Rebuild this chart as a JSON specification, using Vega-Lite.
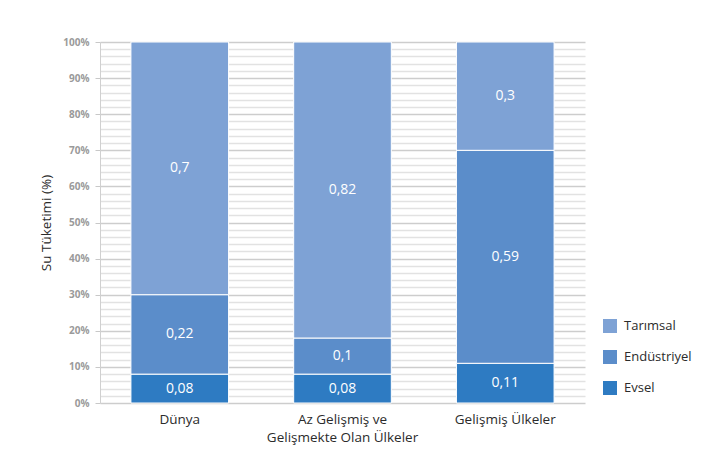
{
  "$schema": "https://vega.github.io/schema/vega-lite/v6.json",
  "width": 485,
  "height": 361,
  "autosize": {"type": "none"},
  "padding": {"left": 100, "top": 42, "right": 118, "bottom": 69},
  "background": "#ffffff",
  "config": {
    "font": "Open Sans",
    "view": {"stroke": null},
    "locale": {
      "number": {"decimal": ",", "thousands": ".", "grouping": [3], "currency": ["", " ₺"]}
    }
  },
  "data": {
    "values": [
      {"bolge": "Dünya", "kullanim": "Evsel", "sira": 1, "pay": 0.08},
      {"bolge": "Dünya", "kullanim": "Endüstriyel", "sira": 2, "pay": 0.22},
      {"bolge": "Dünya", "kullanim": "Tarımsal", "sira": 3, "pay": 0.7},
      {"bolge": "Az Gelişmiş ve Gelişmekte Olan Ülkeler", "kullanim": "Evsel", "sira": 1, "pay": 0.08},
      {"bolge": "Az Gelişmiş ve Gelişmekte Olan Ülkeler", "kullanim": "Endüstriyel", "sira": 2, "pay": 0.1},
      {"bolge": "Az Gelişmiş ve Gelişmekte Olan Ülkeler", "kullanim": "Tarımsal", "sira": 3, "pay": 0.82},
      {"bolge": "Gelişmiş Ülkeler", "kullanim": "Evsel", "sira": 1, "pay": 0.11},
      {"bolge": "Gelişmiş Ülkeler", "kullanim": "Endüstriyel", "sira": 2, "pay": 0.59},
      {"bolge": "Gelişmiş Ülkeler", "kullanim": "Tarımsal", "sira": 3, "pay": 0.3}
    ]
  },
  "encoding": {
    "x": {
      "field": "bolge",
      "type": "nominal",
      "sort": null,
      "scale": {"paddingInner": 0.4, "paddingOuter": 0.19},
      "axis": {
        "title": null,
        "domain": false,
        "ticks": false,
        "labelAngle": 0,
        "labelFontSize": 13.5,
        "labelColor": "#2b2b2b",
        "labelPadding": 9,
        "labelLineHeight": 18,
        "labelExpr": "datum.value == 'Az Gelişmiş ve Gelişmekte Olan Ülkeler' ? ['Az Gelişmiş ve', 'Gelişmekte Olan Ülkeler'] : datum.label"
      }
    },
    "y": {
      "field": "pay",
      "type": "quantitative",
      "stack": "zero",
      "scale": {"domain": [0, 1], "nice": false},
      "axis": {
        "title": "Su Tüketimi (%)",
        "titleFontSize": 13.5,
        "titleFontWeight": "normal",
        "titleColor": "#2b2b2b",
        "titlePadding": 9,
        "format": ".0%",
        "values": [0, 0.02, 0.04, 0.06, 0.08, 0.1, 0.12, 0.14, 0.16, 0.18, 0.2, 0.22, 0.24, 0.26, 0.28, 0.3, 0.32, 0.34, 0.36, 0.38, 0.4, 0.42, 0.44, 0.46, 0.48, 0.5, 0.52, 0.54, 0.56, 0.58, 0.6, 0.62, 0.64, 0.66, 0.68, 0.7, 0.72, 0.74, 0.76, 0.78, 0.8, 0.82, 0.84, 0.86, 0.88, 0.9, 0.92, 0.94, 0.96, 0.98, 1],
        "labelExpr": "round(datum.value * 100) % 10 == 0 ? datum.label : ''",
        "labelFontSize": 10,
        "labelFontWeight": "bold",
        "labelColor": "#9a9a9a",
        "labelPadding": 6,
        "domainColor": "#d0d0d0",
        "tickColor": "#c8c8c8",
        "tickSize": 5,
        "tickOpacity": {"condition": {"test": "round(datum.value * 100) % 10 == 0", "value": 1}, "value": 0},
        "grid": true,
        "gridWidth": 1.6,
        "gridColor": {"condition": {"test": "round(datum.value * 100) % 10 == 0", "value": "#cdcdcd"}, "value": "#e2e2e2"}
      }
    }
  },
  "layer": [
    {
      "mark": {"type": "bar", "stroke": "#ffffff", "strokeWidth": 1},
      "encoding": {
        "color": {
          "field": "kullanim",
          "type": "nominal",
          "scale": {
            "domain": ["Tarımsal", "Endüstriyel", "Evsel"],
            "range": ["#7ea2d5", "#5b8dca", "#2e7bc2"]
          },
          "legend": {
            "title": null,
            "orient": "none",
            "legendX": 503,
            "legendY": 277,
            "symbolType": "square",
            "symbolSize": 196,
            "symbolStrokeWidth": 0,
            "symbolOpacity": 1,
            "labelFontSize": 13,
            "labelColor": "#2b2b2b",
            "labelOffset": 7,
            "rowPadding": 17
          }
        },
        "order": {"field": "sira", "type": "quantitative"}
      }
    },
    {
      "mark": {"type": "text", "color": "#ffffff", "fontSize": 14, "baseline": "middle"},
      "encoding": {
        "y": {"field": "pay", "type": "quantitative", "stack": "zero", "bandPosition": 0.5},
        "text": {"field": "pay", "type": "quantitative", "format": ".2~f"},
        "order": {"field": "sira", "type": "quantitative"}
      }
    }
  ]
}
